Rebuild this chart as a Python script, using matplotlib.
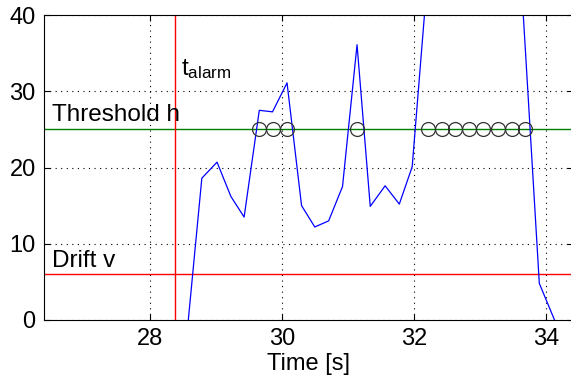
import matplotlib
matplotlib.use("Agg")
import matplotlib.pyplot as plt

# ------------------------
# DATA
# ------------------------

time_s = [28.585, 28.79, 29.02, 29.23, 29.43, 29.66, 29.86, 30.08, 30.30,
          30.50, 30.71, 30.92, 31.14, 31.34, 31.565, 31.78, 31.975, 32.20,
          33.62, 33.90, 34.13]
g_test = [0.0, 18.6, 20.7, 16.2, 13.5, 27.5, 27.3, 31.1, 15.0,
          12.2, 13.0, 17.5, 36.1, 14.9, 17.6, 15.2, 20.1, 44.2,
          45.4, 4.8, 0.0]

alarm_times = [29.66, 29.87, 30.08, 31.14, 32.21, 32.42, 32.63, 32.84,
               33.05, 33.27, 33.48, 33.69]

threshold_h = 25
drift_v = 6
t_alarm = 28.38

x_ticks = [28, 30, 32, 34]
y_ticks = [0, 10, 20, 30, 40]

# ------------------------
# FIGURE
# ------------------------

plt.rcParams['font.family'] = ['Liberation Sans', 'DejaVu Sans']
plt.rcParams['mathtext.fontset'] = 'custom'
plt.rcParams['mathtext.rm'] = 'Liberation Sans'

fig = plt.figure(figsize=(5.71, 3.91), dpi=100)
ax = fig.add_axes([44 / 571, 71 / 391, 529 / 571, 305 / 391])

ax.plot(time_s, g_test, color='blue', linewidth=0.9, zorder=3)
ax.axhline(threshold_h, color='#008000', linewidth=1.0, zorder=2)
ax.axhline(drift_v, color='red', linewidth=1.0, zorder=2)
ax.axvline(t_alarm, color='red', linewidth=1.0, zorder=2)
ax.plot(alarm_times, [threshold_h] * len(alarm_times), linestyle='none',
        marker='o', markersize=10, markerfacecolor='none',
        markeredgecolor='#333333', markeredgewidth=0.9, zorder=4)

ax.text(26.52, 26.1, "Threshold h", fontsize=17.5)
ax.text(26.52, 6.95, "Drift v", fontsize=17.5)
ax.text(28.48, 32.1, r"$\mathrm{t_{alarm}}$", fontsize=17.5)

# ------------------------
# AXES
# ------------------------

ax.set_xlim(26.4, 34.41)
ax.set_ylim(0, 40)
ax.set_xticks(x_ticks)
ax.set_yticks(y_ticks)
ax.grid(True, linestyle=(0, (1, 4)), color='black', linewidth=0.8)
ax.set_axisbelow(True)
ax.tick_params(direction='in', top=True, right=True, length=4,
               labelsize=17, pad=6)
ax.set_xlabel("Time [s]", fontsize=17, labelpad=2)
ax.spines['right'].set_visible(False)
for s in ax.spines.values():
    s.set_zorder(5)

fig.savefig("out.png", dpi=100)
